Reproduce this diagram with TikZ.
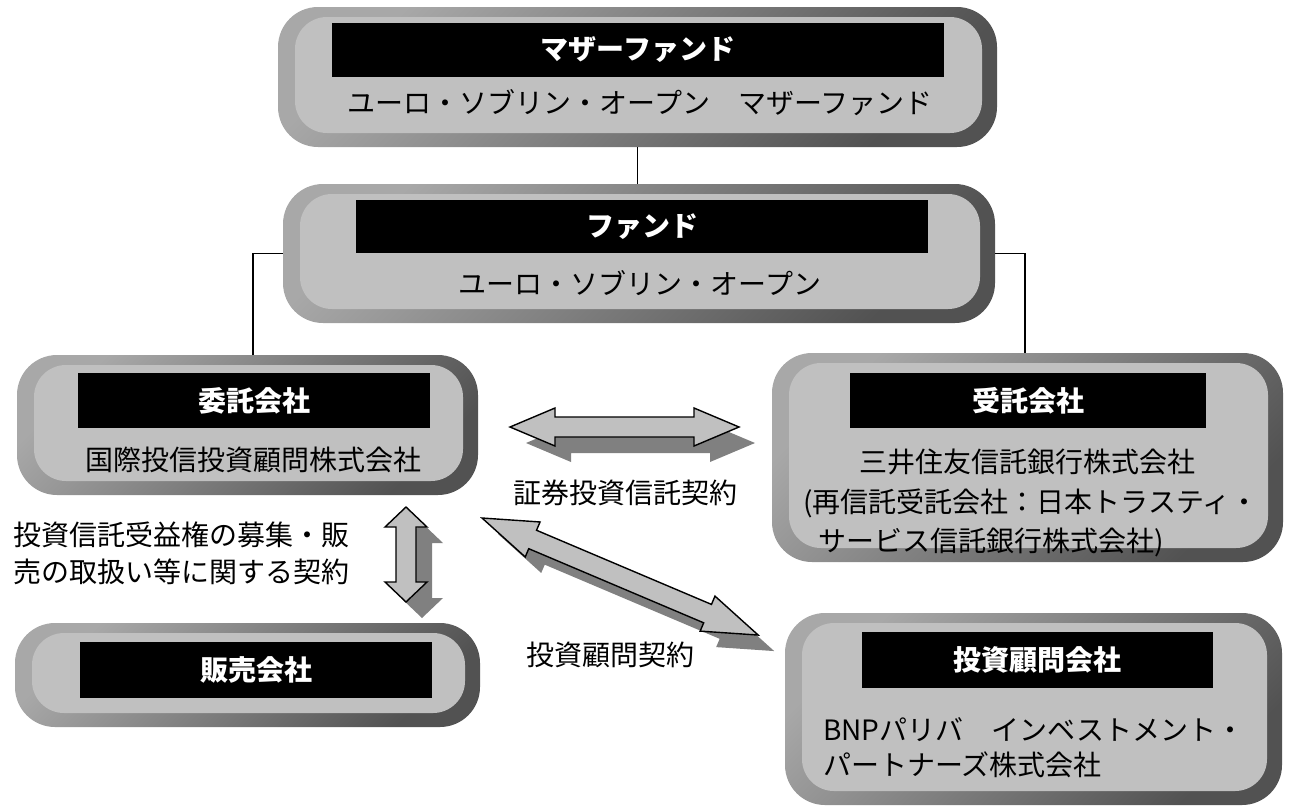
\documentclass[tikz,border=0pt]{standalone}
\usepackage{fontspec}
\setmainfont{Noto Sans CJK JP}
\usetikzlibrary{calc}
\definecolor{bordlight}{RGB}{168,168,168}
\definecolor{borddark}{RGB}{82,82,82}
\definecolor{innerfill}{RGB}{192,192,192}
\definecolor{shadowgray}{RGB}{128,128,128}
\tikzset{
  outerbox/.style={rectangle, inner sep=0pt, rounded corners=40pt, top color=bordlight, bottom color=borddark, shading angle=45, draw=none},
  innerbox/.style={rectangle, inner sep=0pt, rounded corners=32pt, fill=innerfill, draw=none},
  titlebar/.style={rectangle, inner sep=0pt, fill=black, text=white, font=\fontsize{28}{30}\selectfont\bfseries},
  bodytext/.style={inner sep=0pt, font=\fontsize{28}{30}\selectfont},
  conn/.style={draw=black, line width=1.3pt},
  arrowbody/.style={fill=innerfill, draw=black, line width=1.4pt, line join=miter},
  arrowshadow/.style={fill=shadowgray, draw=none},
}
% rounded box: name, x1, y1, x2, y2 (pixel coordinates, y downwards)
\newcommand\rbox[5]{%
  \pgfmathsetmacro\rbW{#4-#2}\pgfmathsetmacro\rbH{#5-#3}%
  \pgfmathsetmacro\rbX{(#2+#4)/2}\pgfmathsetmacro\rbY{(#3+#5)/2}%
  \pgfmathsetmacro\rbIW{\rbW-32}\pgfmathsetmacro\rbIH{\rbH-24}%
  \node[outerbox, minimum width=\rbW pt, minimum height=\rbH pt] (#1) at (\rbX,\rbY) {};
  \node[innerbox, minimum width=\rbIW pt, minimum height=\rbIH pt] (#1-in) at (\rbX+1,\rbY-2) {};
}
% block double arrow: name, x, y, angle, total length, shaft half width, head half width, head length
\newcommand\blockarrow[8]{%
  \begin{scope}[shift={(#2+16,#3+16)}, rotate=#4]
    \fill[arrowshadow] (0,0) -- (#8,-#7) -- (#8,-#6) -- (#5-#8,-#6) -- (#5-#8,-#7) -- (#5,0)
      -- (#5-#8,#7) -- (#5-#8,#6) -- (#8,#6) -- (#8,#7) -- cycle;
  \end{scope}
  \begin{scope}[shift={(#2,#3)}, rotate=#4]
    \coordinate (#1-a) at (0,0);
    \coordinate (#1-b) at (#5,0);
    \draw[arrowbody] (#1-a) -- (#8,-#7) -- (#8,-#6) -- (#5-#8,-#6) -- (#5-#8,-#7) -- (#1-b)
      -- (#5-#8,#7) -- (#5-#8,#6) -- (#8,#6) -- (#8,#7) -- cycle;
  \end{scope}
}
\begin{document}
\begin{tikzpicture}[x=1pt, y=-1pt]
\useasboundingbox (0,0) rectangle (1297,809);

% boxes
\rbox{mother}{278}{7}{997}{147}
\rbox{fund}{283}{184}{995}{323}
\rbox{itaku}{17}{355}{478}{495}
\rbox{jutaku}{772}{353}{1283}{562}
\rbox{hanbai}{15}{623}{480}{727}
\rbox{komon}{785}{613}{1282}{805}

% title bars
\node[titlebar, minimum width=612pt, minimum height=54pt] (motherT) at (638,50) {マザーファンド};
\node[titlebar, minimum width=572pt, minimum height=53pt] (fundT) at (642,226.5) {ファンド};
\node[titlebar, minimum width=352pt, minimum height=55pt] (itakuT) at (254,400.5) {委託会社};
\node[titlebar, minimum width=356pt, minimum height=55pt] (jutakuT) at (1028,400.5) {受託会社};
\node[titlebar, minimum width=352pt, minimum height=56pt] (hanbaiT) at (256,670) {販売会社};
\node[titlebar, minimum width=351pt, minimum height=56pt] (komonT) at (1037.5,660) {投資顧問会社};

% body texts
\node[bodytext] (motherS) at (640,103) {ユーロ・ソブリン・オープン　マザーファンド};
\node[bodytext] (fundS) at (640,283) {ユーロ・ソブリン・オープン};
\node[bodytext] (itakuS) at (253,460) {国際投信投資顧問株式会社};
\node[bodytext] (jutakuS1) at (1027,462) {三井住友信託銀行株式会社};
\node[bodytext, anchor=west] (jutakuS2) at (803,503) {(再信託受託会社：日本トラスティ・};
\node[bodytext, anchor=west] (jutakuS3) at (818,542) {サービス信託銀行株式会社)};
\node[bodytext, anchor=west] (komonS1) at (823,730) {BNPパリバ　インベストメント・};
\node[bodytext, anchor=west] (komonS2) at (823,765) {パートナーズ株式会社};

% connectors
\draw[conn] (mother.south) -- (mother.south |- fund.north);
\draw[conn] (fund.west) -| ($(itaku.north)+(5.5,0)$);
\draw[conn] (fund.east) -| ($(jutaku.north)+(-2.5,0)$);

% contract arrows
\blockarrow{harr}{510}{427}{0}{229}{10}{19}{45}
\blockarrow{varr}{406}{507}{-90}{95}{10}{21}{20}
\blockarrow{darr}{482}{518}{-22.97}{300}{10}{19}{55}

% labels
\node[bodytext] (lblTrust) at (625,493) {証券投資信託契約};
\node[bodytext] (lblAdv) at (610,655) {投資顧問契約};
\node[bodytext, anchor=west] (lblSale1) at (13,535) {投資信託受益権の募集・販};
\node[bodytext, anchor=west] (lblSale2) at (13,572) {売の取扱い等に関する契約};
\end{tikzpicture}
\end{document}
